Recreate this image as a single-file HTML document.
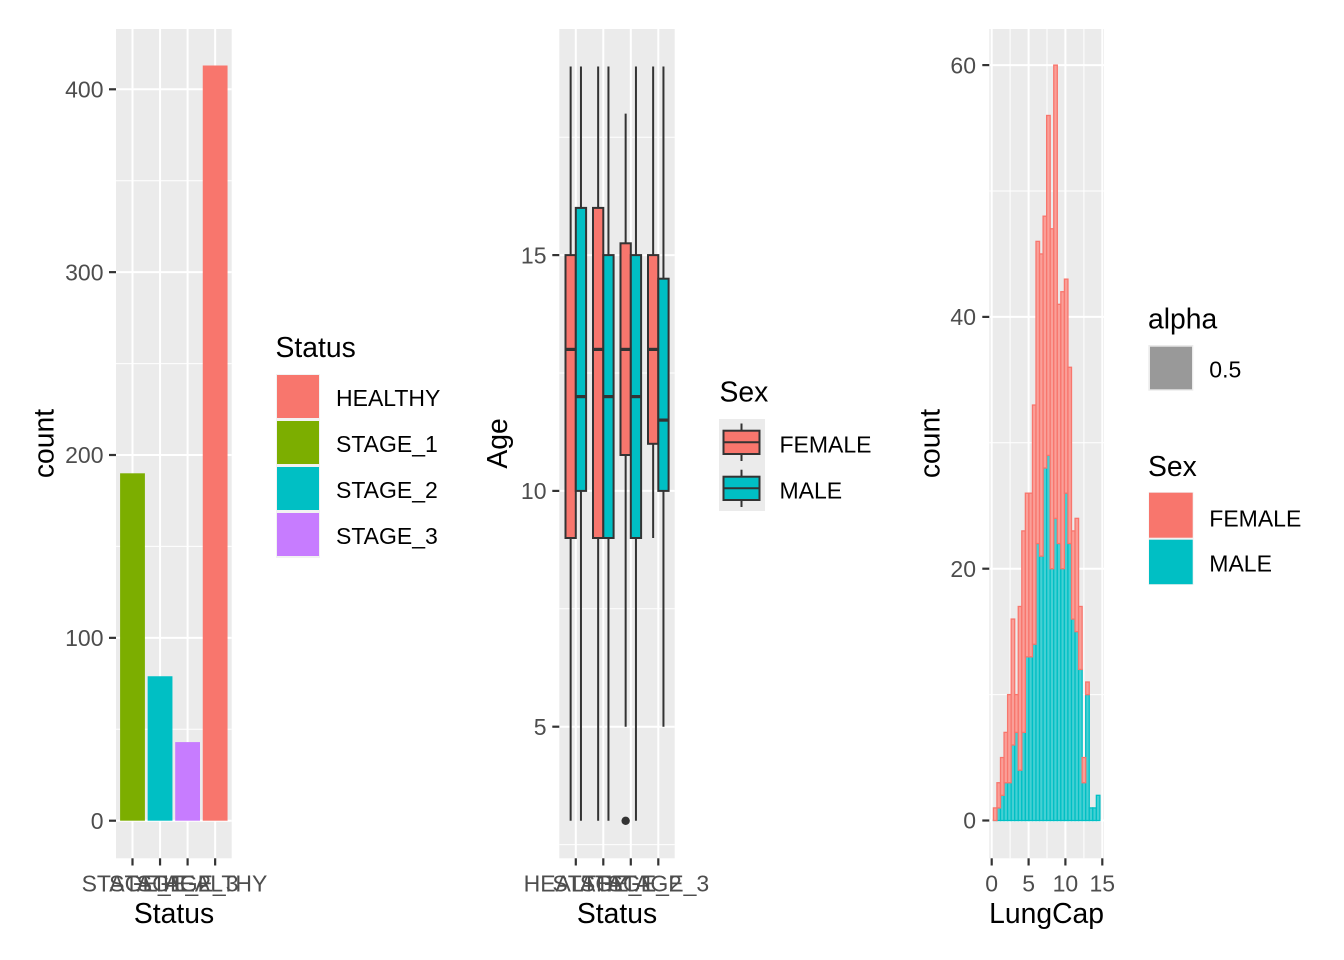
<!DOCTYPE html>
<html>
<head>
<meta charset="utf-8">
<style>
html,body{margin:0;padding:0;background:#fff;}
svg{display:block;}
text{font-family:"Liberation Sans",Arial,sans-serif;}
.tk{font-size:23px;fill:#4D4D4D;}
.ttl{font-size:28.3px;fill:#000;}
.lg{font-size:23px;fill:#000;}
</style>
</head>
<body>
<svg width="1344" height="960" viewBox="0 0 1344 960" xmlns="http://www.w3.org/2000/svg">
<rect width="1344" height="960" fill="#fff"/>

<!-- ================= PANEL 1 ================= -->
<rect x="116" y="29" width="115.7" height="829.3" fill="#EBEBEB"/>
<g stroke="#fff" stroke-width="1">
  <line x1="116" x2="231.7" y1="729.3" y2="729.3"/>
  <line x1="116" x2="231.7" y1="546.4" y2="546.4"/>
  <line x1="116" x2="231.7" y1="363.6" y2="363.6"/>
  <line x1="116" x2="231.7" y1="180.7" y2="180.7"/>
</g>
<g stroke="#fff" stroke-width="2">
  <line x1="116" x2="231.7" y1="820.7" y2="820.7"/>
  <line x1="116" x2="231.7" y1="637.85" y2="637.85"/>
  <line x1="116" x2="231.7" y1="455" y2="455"/>
  <line x1="116" x2="231.7" y1="272.15" y2="272.15"/>
  <line x1="116" x2="231.7" y1="89.3" y2="89.3"/>
  <line x1="132.5" x2="132.5" y1="29" y2="858.3"/>
  <line x1="160.05" x2="160.05" y1="29" y2="858.3"/>
  <line x1="187.6" x2="187.6" y1="29" y2="858.3"/>
  <line x1="215.15" x2="215.15" y1="29" y2="858.3"/>
</g>
<rect x="120.1" y="473.3" width="24.8" height="347.4" fill="#7CAE00"/>
<rect x="147.65" y="676.25" width="24.8" height="144.45" fill="#00BFC4"/>
<rect x="175.2" y="742.1" width="24.8" height="78.6" fill="#C77CFF"/>
<rect x="202.75" y="65.5" width="24.8" height="755.2" fill="#F8766D"/>
<!-- axes ticks -->
<g stroke="#333" stroke-width="2.2">
  <line x1="109" x2="116" y1="820.7" y2="820.7"/>
  <line x1="109" x2="116" y1="637.85" y2="637.85"/>
  <line x1="109" x2="116" y1="455" y2="455"/>
  <line x1="109" x2="116" y1="272.15" y2="272.15"/>
  <line x1="109" x2="116" y1="89.3" y2="89.3"/>
  <line x1="132.5" x2="132.5" y1="858.3" y2="865.5"/>
  <line x1="160.05" x2="160.05" y1="858.3" y2="865.5"/>
  <line x1="187.6" x2="187.6" y1="858.3" y2="865.5"/>
  <line x1="215.15" x2="215.15" y1="858.3" y2="865.5"/>
</g>
<g class="tk" text-anchor="end">
  <text x="103.5" y="828.9">0</text>
  <text x="103.5" y="646">100</text>
  <text x="103.5" y="463.2">200</text>
  <text x="103.5" y="280.3">300</text>
  <text x="103.5" y="97.5">400</text>
</g>
<g class="tk" text-anchor="middle">
  <text x="132.5" y="891.5">STAGE_1</text>
  <text x="160.05" y="891.5">STAGE_2</text>
  <text x="187.6" y="891.5">STAGE_3</text>
  <text x="215.15" y="891.5">HEALTHY</text>
</g>
<text class="ttl" x="174" y="923" text-anchor="middle">Status</text>
<text class="ttl" transform="translate(53.5,443.5) rotate(-90)" text-anchor="middle">count</text>

<!-- legend 1 -->
<text class="ttl" x="275.5" y="357">Status</text>
<rect x="276" y="374" width="44" height="184" fill="#F2F2F2"/>
<rect x="277" y="375" width="42" height="43" fill="#F8766D"/>
<rect x="277" y="421" width="42" height="43" fill="#7CAE00"/>
<rect x="277" y="467" width="42" height="43" fill="#00BFC4"/>
<rect x="277" y="513" width="42" height="43" fill="#C77CFF"/>
<g class="lg">
  <text x="336" y="406">HEALTHY</text>
  <text x="336" y="452">STAGE_1</text>
  <text x="336" y="498">STAGE_2</text>
  <text x="336" y="544">STAGE_3</text>
</g>

<!-- ================= PANEL 2 ================= -->
<rect x="559.3" y="29" width="115.4" height="829.3" fill="#EBEBEB"/>
<g stroke="#fff" stroke-width="1">
  <line x1="559.3" x2="674.7" y1="844.6" y2="844.6"/>
  <line x1="559.3" x2="674.7" y1="608.8" y2="608.8"/>
  <line x1="559.3" x2="674.7" y1="373" y2="373"/>
  <line x1="559.3" x2="674.7" y1="137.2" y2="137.2"/>
</g>
<g stroke="#fff" stroke-width="2">
  <line x1="559.3" x2="674.7" y1="726.7" y2="726.7"/>
  <line x1="559.3" x2="674.7" y1="490.9" y2="490.9"/>
  <line x1="559.3" x2="674.7" y1="255.1" y2="255.1"/>
  <line x1="575.8" x2="575.8" y1="29" y2="858.3"/>
  <line x1="603.3" x2="603.3" y1="29" y2="858.3"/>
  <line x1="630.8" x2="630.8" y1="29" y2="858.3"/>
  <line x1="658.3" x2="658.3" y1="29" y2="858.3"/>
</g>
<!-- boxplots: y(v)=962.5-47.16v -->
<g stroke="#333" stroke-width="2">
  <!-- cat1 HEALTHY -->
  <line x1="570.65" x2="570.65" y1="66.5" y2="820.8"/>
  <rect x="565.5" y="255.1" width="10.3" height="282.9" fill="#F8766D"/>
  <line x1="580.95" x2="580.95" y1="66.5" y2="820.8"/>
  <rect x="575.8" y="207.9" width="10.3" height="283" fill="#00BFC4"/>
  <!-- cat2 STAGE_1 -->
  <line x1="598.15" x2="598.15" y1="66.5" y2="820.8"/>
  <rect x="593" y="207.9" width="10.3" height="330.1" fill="#F8766D"/>
  <line x1="608.45" x2="608.45" y1="66.5" y2="820.8"/>
  <rect x="603.3" y="255.1" width="10.3" height="282.9" fill="#00BFC4"/>
  <!-- cat3 STAGE_2 -->
  <line x1="625.65" x2="625.65" y1="113.6" y2="726.7"/>
  <rect x="620.5" y="243.3" width="10.3" height="211.7" fill="#F8766D"/>
  <line x1="635.95" x2="635.95" y1="66.5" y2="820.8"/>
  <rect x="630.8" y="255.1" width="10.3" height="282.9" fill="#00BFC4"/>
  <!-- cat4 STAGE_3 -->
  <line x1="653.15" x2="653.15" y1="66.5" y2="538"/>
  <rect x="648" y="255.1" width="10.3" height="188.7" fill="#F8766D"/>
  <line x1="663.45" x2="663.45" y1="66.5" y2="726.7"/>
  <rect x="658.3" y="278.7" width="10.3" height="212.2" fill="#00BFC4"/>
</g>
<g stroke="#333" stroke-width="3.2">
  <line x1="565.5" x2="575.8" y1="349.4" y2="349.4"/>
  <line x1="575.8" x2="586.1" y1="396.6" y2="396.6"/>
  <line x1="593" x2="603.3" y1="349.4" y2="349.4"/>
  <line x1="603.3" x2="613.6" y1="396.6" y2="396.6"/>
  <line x1="620.5" x2="630.8" y1="349.4" y2="349.4"/>
  <line x1="630.8" x2="641.1" y1="396.6" y2="396.6"/>
  <line x1="648" x2="658.3" y1="349.4" y2="349.4"/>
  <line x1="658.3" x2="668.6" y1="420.1" y2="420.1"/>
</g>
<circle cx="625.65" cy="820.8" r="4.2" fill="#333"/>
<g stroke="#333" stroke-width="2.2">
  <line x1="552.3" x2="559.3" y1="726.7" y2="726.7"/>
  <line x1="552.3" x2="559.3" y1="490.9" y2="490.9"/>
  <line x1="552.3" x2="559.3" y1="255.1" y2="255.1"/>
  <line x1="575.8" x2="575.8" y1="858.3" y2="865.5"/>
  <line x1="603.3" x2="603.3" y1="858.3" y2="865.5"/>
  <line x1="630.8" x2="630.8" y1="858.3" y2="865.5"/>
  <line x1="658.3" x2="658.3" y1="858.3" y2="865.5"/>
</g>
<g class="tk" text-anchor="end">
  <text x="546.5" y="734.9">5</text>
  <text x="546.5" y="499.1">10</text>
  <text x="546.5" y="263.3">15</text>
</g>
<g class="tk" text-anchor="middle">
  <text x="575.8" y="891.5">HEALTHY</text>
  <text x="603.3" y="891.5">STAGE_1</text>
  <text x="630.8" y="891.5">STAGE_2</text>
  <text x="658.3" y="891.5">STAGE_3</text>
</g>
<text class="ttl" x="617" y="923" text-anchor="middle">Status</text>
<text class="ttl" transform="translate(507,443.5) rotate(-90)" text-anchor="middle">Age</text>

<!-- legend 2 -->
<text class="ttl" x="719.5" y="401.7">Sex</text>
<rect x="719" y="419" width="46" height="92" fill="#EBEBEB"/>
<g stroke="#333" stroke-width="2">
  <line x1="741.5" x2="741.5" y1="423.5" y2="430.7"/>
  <line x1="741.5" x2="741.5" y1="454" y2="461"/>
  <rect x="723.5" y="430.7" width="36" height="23.3" fill="#F8766D"/>
  <line x1="723.5" x2="759.5" y1="442.3" y2="442.3"/>
  <line x1="741.5" x2="741.5" y1="469.7" y2="476.7"/>
  <line x1="741.5" x2="741.5" y1="500" y2="507"/>
  <rect x="723.5" y="476.7" width="36" height="23.3" fill="#00BFC4"/>
  <line x1="723.5" x2="759.5" y1="488.3" y2="488.3"/>
</g>
<g class="lg">
  <text x="779.5" y="452.3">FEMALE</text>
  <text x="779.5" y="498.3">MALE</text>
</g>

<!-- ================= PANEL 3 ================= -->
<rect x="989.3" y="29" width="114.7" height="829.3" fill="#EBEBEB"/>
<g stroke="#fff" stroke-width="1">
  <line x1="989.3" x2="1104" y1="694.6" y2="694.6"/>
  <line x1="989.3" x2="1104" y1="442.8" y2="442.8"/>
  <line x1="989.3" x2="1104" y1="191" y2="191"/>
  <line x1="1010.1" x2="1010.1" y1="29" y2="858.3"/>
  <line x1="1047" x2="1047" y1="29" y2="858.3"/>
  <line x1="1083.9" x2="1083.9" y1="29" y2="858.3"/>
</g>
<g stroke="#fff" stroke-width="2">
  <line x1="989.3" x2="1104" y1="820.5" y2="820.5"/>
  <line x1="989.3" x2="1104" y1="568.7" y2="568.7"/>
  <line x1="989.3" x2="1104" y1="316.9" y2="316.9"/>
  <line x1="989.3" x2="1104" y1="65.1" y2="65.1"/>
  <line x1="991.7" x2="991.7" y1="29" y2="858.3"/>
  <line x1="1028.6" x2="1028.6" y1="29" y2="858.3"/>
  <line x1="1065.4" x2="1065.4" y1="29" y2="858.3"/>
  <line x1="1102.3" x2="1102.3" y1="29" y2="858.3"/>
</g>
<!-- histogram: male (cyan) bottom, female (pink) stacked on top -->
<g fill="#45D0D4" stroke="#00BFC4" stroke-width="1.3">
  <rect x="993.4" y="820" width="3.55" height="0.5"/>
  <rect x="996.95" y="807.91" width="3.55" height="12.59"/>
  <rect x="1000.5" y="795.32" width="3.55" height="25.18"/>
  <rect x="1004.05" y="782.73" width="3.55" height="37.77"/>
  <rect x="1007.6" y="782.73" width="3.55" height="37.77"/>
  <rect x="1011.15" y="744.96" width="3.55" height="75.54"/>
  <rect x="1014.7" y="732.37" width="3.55" height="88.13"/>
  <rect x="1018.25" y="770.14" width="3.55" height="50.36"/>
  <rect x="1021.8" y="732.37" width="3.55" height="88.13"/>
  <rect x="1025.35" y="656.83" width="3.55" height="163.67"/>
  <rect x="1028.9" y="656.83" width="3.55" height="163.67"/>
  <rect x="1032.45" y="644.24" width="3.55" height="176.26"/>
  <rect x="1036" y="543.52" width="3.55" height="276.98"/>
  <rect x="1039.55" y="556.11" width="3.55" height="264.39"/>
  <rect x="1043.1" y="467.98" width="3.55" height="352.52"/>
  <rect x="1046.65" y="455.39" width="3.55" height="365.11"/>
  <rect x="1050.2" y="568.7" width="3.55" height="251.8"/>
  <rect x="1053.75" y="518.34" width="3.55" height="302.16"/>
  <rect x="1057.3" y="543.52" width="3.55" height="276.98"/>
  <rect x="1060.85" y="568.7" width="3.55" height="251.8"/>
  <rect x="1064.4" y="493.16" width="3.55" height="327.34"/>
  <rect x="1067.95" y="543.52" width="3.55" height="276.98"/>
  <rect x="1071.5" y="619.06" width="3.55" height="201.44"/>
  <rect x="1075.05" y="631.65" width="3.55" height="188.85"/>
  <rect x="1078.6" y="669.42" width="3.55" height="151.08"/>
  <rect x="1082.15" y="782.73" width="3.55" height="37.77"/>
  <rect x="1085.7" y="694.6" width="3.55" height="125.9"/>
  <rect x="1089.25" y="807.91" width="3.55" height="12.59"/>
  <rect x="1092.8" y="807.91" width="3.55" height="12.59"/>
  <rect x="1096.35" y="795.32" width="3.55" height="25.18"/>
</g>
<g fill="#FA9F98" stroke="#F8766D" stroke-width="1.3">
  <rect x="993.4" y="807.91" width="3.55" height="12.59"/>
  <rect x="996.95" y="782.73" width="3.55" height="25.18"/>
  <rect x="1000.5" y="757.55" width="3.55" height="37.77"/>
  <rect x="1004.05" y="732.37" width="3.55" height="50.36"/>
  <rect x="1007.6" y="694.6" width="3.55" height="88.13"/>
  <rect x="1011.15" y="619.06" width="3.55" height="125.9"/>
  <rect x="1014.7" y="694.6" width="3.55" height="37.77"/>
  <rect x="1018.25" y="606.47" width="3.55" height="163.67"/>
  <rect x="1021.8" y="530.93" width="3.55" height="201.44"/>
  <rect x="1025.35" y="493.16" width="3.55" height="163.67"/>
  <rect x="1028.9" y="493.16" width="3.55" height="163.67"/>
  <rect x="1032.45" y="405.03" width="3.55" height="239.21"/>
  <rect x="1036" y="241.36" width="3.55" height="302.16"/>
  <rect x="1039.55" y="253.95" width="3.55" height="302.16"/>
  <rect x="1043.1" y="216.18" width="3.55" height="251.8"/>
  <rect x="1046.65" y="115.46" width="3.55" height="339.93"/>
  <rect x="1050.2" y="228.77" width="3.55" height="339.93"/>
  <rect x="1053.75" y="65.1" width="3.55" height="453.24"/>
  <rect x="1057.3" y="304.31" width="3.55" height="239.21"/>
  <rect x="1060.85" y="291.72" width="3.55" height="276.98"/>
  <rect x="1064.4" y="279.13" width="3.55" height="214.03"/>
  <rect x="1067.95" y="367.26" width="3.55" height="176.26"/>
  <rect x="1071.5" y="530.93" width="3.55" height="88.13"/>
  <rect x="1075.05" y="518.34" width="3.55" height="113.31"/>
  <rect x="1078.6" y="606.47" width="3.55" height="62.95"/>
  <rect x="1082.15" y="757.55" width="3.55" height="25.18"/>
  <rect x="1085.7" y="682.01" width="3.55" height="12.59"/>
</g>
<g stroke="#333" stroke-width="2.2">
  <line x1="982.3" x2="989.3" y1="820.5" y2="820.5"/>
  <line x1="982.3" x2="989.3" y1="568.7" y2="568.7"/>
  <line x1="982.3" x2="989.3" y1="316.9" y2="316.9"/>
  <line x1="982.3" x2="989.3" y1="65.1" y2="65.1"/>
  <line x1="991.7" x2="991.7" y1="858.3" y2="865.5"/>
  <line x1="1028.6" x2="1028.6" y1="858.3" y2="865.5"/>
  <line x1="1065.4" x2="1065.4" y1="858.3" y2="865.5"/>
  <line x1="1102.3" x2="1102.3" y1="858.3" y2="865.5"/>
</g>
<g class="tk" text-anchor="end">
  <text x="976" y="828.7">0</text>
  <text x="976" y="576.9">20</text>
  <text x="976" y="325.1">40</text>
  <text x="976" y="73.3">60</text>
</g>
<g class="tk" text-anchor="middle">
  <text x="991.7" y="891.5">0</text>
  <text x="1028.6" y="891.5">5</text>
  <text x="1065.4" y="891.5">10</text>
  <text x="1102.3" y="891.5">15</text>
</g>
<text class="ttl" x="1046.6" y="923" text-anchor="middle">LungCap</text>
<text class="ttl" transform="translate(939.5,443.5) rotate(-90)" text-anchor="middle">count</text>

<!-- legend 3 -->
<text class="ttl" x="1148" y="328.3">alpha</text>
<rect x="1148.3" y="345" width="45" height="45.7" fill="#EBEBEB"/>
<rect x="1150" y="346.7" width="42" height="42.6" fill="#999999"/>
<text class="lg" x="1209.3" y="377.3">0.5</text>
<text class="ttl" x="1148" y="476">Sex</text>
<rect x="1148.5" y="492" width="45" height="93" fill="#F2F2F2"/>
<rect x="1149" y="492.7" width="43.7" height="45" fill="#F8766D"/>
<rect x="1149" y="539.7" width="43.7" height="44.5" fill="#00BFC4"/>
<g class="lg">
  <text x="1209.3" y="526.6">FEMALE</text>
  <text x="1209.3" y="571.6">MALE</text>
</g>
</svg>
</body>
</html>
